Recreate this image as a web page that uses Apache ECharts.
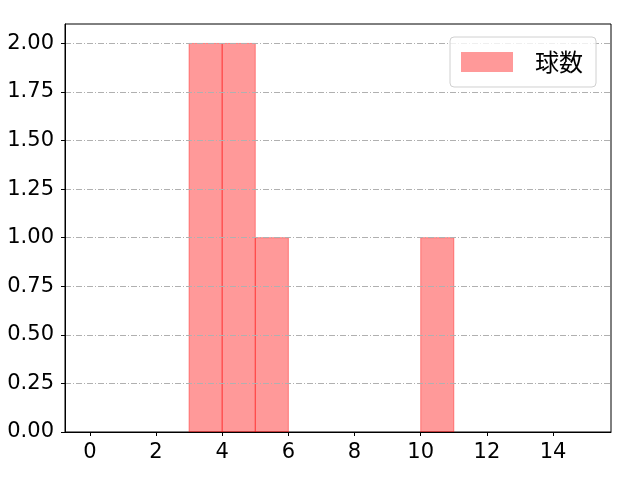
<!DOCTYPE html>
<html>
<head>
<meta charset="utf-8">
<script src="https://cdn.jsdelivr.net/npm/echarts@6/dist/echarts.min.js"></script>
<style>html,body{margin:0;padding:0;background:#fff}#c{width:640px;height:480px}</style>
</head>
<body>
<div id="c"></div>
<script>
const binStarts = [0,1,2,3,4,5,6,7,8,9,10,11,12,13,14];
const binEnds   = [1,2,3,4,5,6,7,8,9,10,11,12,13,14,15];
const counts    = [0,0,0,2,2,1,0,0,0,0,1,0,0,0,0];
const xTicks = [0,2,4,6,8,10,12,14];
const yTicks = [0,0.25,0.5,0.75,1.0,1.25,1.5,1.75,2.0];
const seriesName = '球数';

const NUMFONT = '"DejaVu Sans", sans-serif';
const CJKFONT = '"Noto Sans CJK JP", sans-serif';
const data = binStarts.map((s,i)=>[s, binEnds[i], counts[i]]);

const chart = echarts.init(document.getElementById('c'), null, {renderer:'canvas'});
chart.setOption({
  animation:false,
  backgroundColor:'#fff',
  grid:{left:65, right:29, top:24, bottom:48, show:true, borderColor:'#000', borderWidth:1, backgroundColor:'transparent'},
  legend:{
    data:[{name:seriesName, icon:'rect'}],
    right:44, top:37,
    itemWidth:52, itemHeight:20,
    padding:[13,13,13,11],
    borderColor:'#d0d0d0', borderWidth:1, borderRadius:4,
    backgroundColor:'rgba(255,255,255,0.8)',
    textStyle:{fontFamily:CJKFONT, fontSize:24, lineHeight:20, color:'#000', padding:[0,0,0,17]}
  },
  xAxis:{
    type:'value', min:-0.75, max:15.75, z:6,
    axisLine:{show:true, onZero:false, lineStyle:{color:'#000', width:1}},
    axisTick:{show:true, customValues:xTicks, length:4, lineStyle:{color:'#000'}},
    axisLabel:{customValues:xTicks, fontFamily:NUMFONT, fontSize:21, color:'#000', margin:10},
    splitLine:{show:false}
  },
  yAxis:{
    type:'value', min:0, max:2.1, z:3,
    axisLine:{show:true, onZero:false, lineStyle:{color:'#000', width:1}},
    axisTick:{show:true, customValues:yTicks, length:4, lineStyle:{color:'#000'}},
    axisLabel:{customValues:yTicks, fontFamily:NUMFONT, fontSize:21, color:'#000', margin:11,
      formatter:v=>v.toFixed(2)},
    splitLine:{show:true, lineStyle:{color:'#b0b0b0', width:1, type:[6,2,1,2]}}
  },
  series:[{
    name:seriesName,
    type:'custom',
    itemStyle:{color:'rgba(255,0,0,0.4)'},
    encode:{x:[0,1], y:2},
    data:data,
    renderItem:function(params, api){
      const x0=api.value(0), x1=api.value(1), y=api.value(2);
      if(!y) return null;
      const p0=api.coord([x0,0]);
      const p1=api.coord([x1,y]);
      return {type:'rect',
        shape:{x:p0[0], y:p1[1], width:p1[0]-p0[0], height:p0[1]-p1[1]},
        style:{fill:'rgba(255,0,0,0.4)', stroke:'rgba(255,0,0,0.4)', lineWidth:1}};
    }
  }]
});
</script>
</body>
</html>
